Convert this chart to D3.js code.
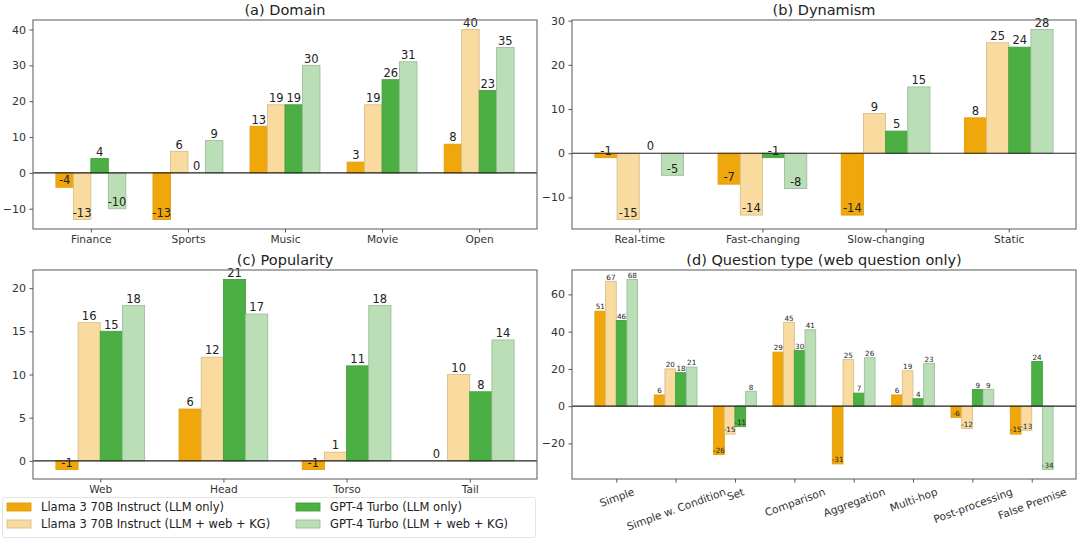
<!DOCTYPE html>
<html>
<head>
<meta charset="utf-8">
<script src="https://cdn.jsdelivr.net/npm/d3@7/dist/d3.min.js"></script>
<style>
html,body{margin:0;padding:0;background:#fff;}
svg{display:block;font-family:"DejaVu Sans",sans-serif;}
</style>
</head>
<body>
<svg id="chart" width="1080" height="558"></svg>
<script>
// ---------- data ----------
const seriesNames = [
  "Llama 3 70B Instruct (LLM only)",
  "Llama 3 70B Instruct (LLM + web + KG)",
  "GPT-4 Turbo (LLM only)",
  "GPT-4 Turbo (LLM + web + KG)"
];

const domainCats = ["Finance", "Sports", "Music", "Movie", "Open"];
const domainLlama = [-4, -13, 13, 3, 8];
const domainLlamaRag = [-13, 6, 19, 19, 40];
const domainGpt = [4, 0, 19, 26, 23];
const domainGptRag = [-10, 9, 30, 31, 35];
const domainTicks = [-10, 0, 10, 20, 30, 40];

const dynCats = ["Real-time", "Fast-changing", "Slow-changing", "Static"];
const dynLlama = [-1, -7, -14, 8];
const dynLlamaRag = [-15, -14, 9, 25];
const dynGpt = [0, -1, 5, 24];
const dynGptRag = [-5, -8, 15, 28];
const dynTicks = [-10, 0, 10, 20, 30];

const popCats = ["Web", "Head", "Torso", "Tail"];
const popLlama = [-1, 6, -1, 0];
const popLlamaRag = [16, 12, 1, 10];
const popGpt = [15, 21, 11, 8];
const popGptRag = [18, 17, 18, 14];
const popTicks = [0, 5, 10, 15, 20];

const qCats = ["Simple", "Simple w. Condition", "Set", "Comparison", "Aggregation", "Multi-hop", "Post-processing", "False Premise"];
const qLlama = [51, 6, -26, 29, -31, 6, -6, -15];
const qLlamaRag = [67, 20, -15, 45, 25, 19, -12, -13];
const qGpt = [46, 18, -11, 30, 7, 4, 9, 24];
const qGptRag = [68, 21, 8, 41, 26, 23, 9, -34];
const qTicks = [-20, 0, 20, 40, 60];

// ---------- styles ----------
const fills = ["#F0A70B", "#F9DBA0", "#4CAF43", "#BADFB6"];
const strokes = ["#E19C08", "#D8BE8C", "#46A03D", "#9FBC9C"];
const barW = 0.18;
const offsets = [-0.27, -0.09, 0.09, 0.27];

const panels = [
  {title: "(a) Domain", cats: domainCats, series: [domainLlama, domainLlamaRag, domainGpt, domainGptRag], ticks: domainTicks,
   box: [33, 20, 537, 229], labelSize: 11.5, rot: 0},
  {title: "(b) Dynamism", cats: dynCats, series: [dynLlama, dynLlamaRag, dynGpt, dynGptRag], ticks: dynTicks,
   box: [572, 20, 1076, 229], labelSize: 11.5, rot: 0},
  {title: "(c) Popularity", cats: popCats, series: [popLlama, popLlamaRag, popGpt, popGptRag], ticks: popTicks,
   box: [33, 270, 537, 479], labelSize: 11.5, rot: 0},
  {title: "(d) Question type (web question only)", cats: qCats, series: [qLlama, qLlamaRag, qGpt, qGptRag], ticks: qTicks,
   box: [572, 270, 1076, 479], labelSize: 7.2, rot: -20}
];

const svg = d3.select("#chart");
const fmt = v => (v < 0 ? "\u2212" + Math.abs(v) : String(v));
const xFont = 10.6;

panels.forEach(p => {
  const [x0, y0, x1, y1] = p.box;
  const n = p.cats.length;
  const all = p.series.flat().concat([0]);
  const lo = d3.min(all), hi = d3.max(all);
  const ym = (hi - lo) * 0.05;
  const xlo = -0.36, xhi = n - 1 + 0.36, xm = (xhi - xlo) * 0.05;
  const x = d3.scaleLinear().domain([xlo - xm, xhi + xm]).range([x0, x1]);
  const y = d3.scaleLinear().domain([lo - ym, hi + ym]).range([y1, y0]);

  const g = svg.append("g");

  // bars
  p.series.forEach((vals, si) => {
    g.selectAll(null).data(vals).enter().append("rect")
      .attr("x", (d, i) => x(i + offsets[si] - barW / 2))
      .attr("width", (d, i) => x(i + offsets[si] + barW / 2) - x(i + offsets[si] - barW / 2))
      .attr("y", d => Math.min(y(d), y(0)))
      .attr("height", d => Math.abs(y(d) - y(0)))
      .attr("fill", fills[si])
      .attr("stroke", strokes[si])
      .attr("stroke-width", 0.9);
  });

  // zero line
  g.append("line").attr("x1", x0).attr("x2", x1).attr("y1", y(0)).attr("y2", y(0))
    .attr("stroke", "#222").attr("stroke-width", 1.1);

  // value labels
  p.series.forEach((vals, si) => {
    g.selectAll(null).data(vals).enter().append("text")
      .attr("x", (d, i) => x(i + offsets[si]))
      .attr("y", d => y(d) - p.labelSize * 0.24)
      .attr("text-anchor", "middle")
      .attr("font-size", p.labelSize)
      .attr("fill", "#222")
      .text(d => String(d));
  });

  // frame
  g.append("rect").attr("x", x0).attr("y", y0).attr("width", x1 - x0).attr("height", y1 - y0)
    .attr("fill", "none").attr("stroke", "#666").attr("stroke-width", 1.1);

  // y axis
  const ya = g.append("g").attr("transform", `translate(${x0},0)`)
    .call(d3.axisLeft(y).tickValues(p.ticks).tickFormat(fmt).tickSize(3.5).tickPadding(3.5));
  ya.select(".domain").remove();
  ya.selectAll("line").attr("stroke", "#555");
  ya.selectAll("text").attr("font-size", 11).attr("fill", "#333").attr("font-family", "DejaVu Sans");

  // x axis
  const xa = g.append("g").attr("transform", `translate(0,${y1})`)
    .call(d3.axisBottom(x).tickValues(d3.range(n)).tickFormat(i => p.cats[i]).tickSize(3.5).tickPadding(3));
  xa.select(".domain").remove();
  xa.selectAll("line").attr("stroke", "#555");
  xa.selectAll("text").attr("font-size", xFont).attr("fill", "#333").attr("font-family", "DejaVu Sans");
  if (p.rot) {
    const th = Math.abs(p.rot) * Math.PI / 180;
    xa.selectAll("text").each(function () {
      const t = d3.select(this);
      const w = this.getComputedTextLength();
      const h = xFont * 1.1;
      const bh = w * Math.sin(th) + h * Math.cos(th);
      t.attr("y", null).attr("dy", null)
        .attr("text-anchor", "middle").attr("dominant-baseline", "central")
        .attr("transform", `translate(0,${3.5 + 3 + bh / 2}) rotate(${p.rot})`);
    });
  }

  // title
  g.append("text").attr("x", (x0 + x1) / 2).attr("y", y0 - 5)
    .attr("text-anchor", "middle").attr("font-size", 14.5).attr("fill", "#222")
    .text(p.title);
});

// ---------- legend ----------
const leg = svg.append("g");
leg.append("rect").attr("x", 2.5).attr("y", 497.5).attr("width", 533).attr("height", 40)
  .attr("rx", 2).attr("fill", "#fff").attr("stroke", "#e4e4e4").attr("stroke-width", 1);
const legPos = [[7, 507], [7, 524], [296, 507], [296, 524]];
seriesNames.forEach((name, i) => {
  const [lx, ly] = legPos[i];
  leg.append("rect").attr("x", lx).attr("y", ly - 4).attr("width", 24).attr("height", 8)
    .attr("fill", fills[i]).attr("stroke", strokes[i]).attr("stroke-width", 0.9);
  leg.append("text").attr("x", lx + 34).attr("y", ly).attr("dominant-baseline", "central")
    .attr("font-size", 11.5).attr("fill", "#222").text(name);
});
</script>
</body>
</html>
